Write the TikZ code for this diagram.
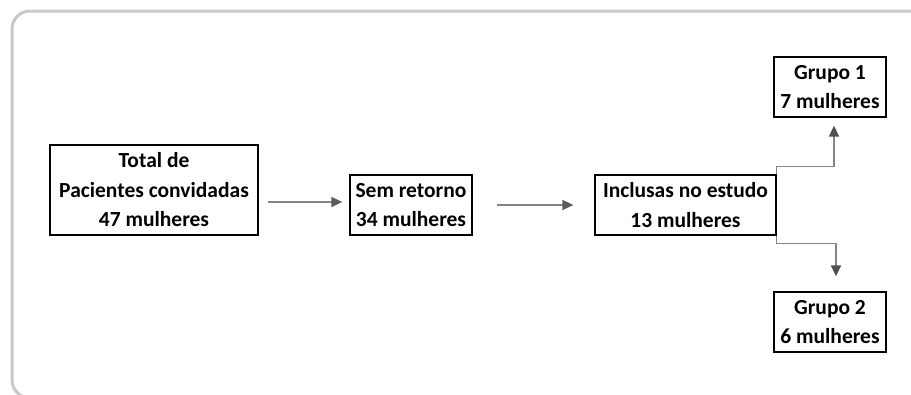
\documentclass[tikz,border=0pt]{standalone}
\usepackage{fontspec}
\setmainfont{Carlito}
\usetikzlibrary{arrows.meta,positioning,calc}
\definecolor{moldcinza}{HTML}{C8C8C8}
\definecolor{setacinza}{HTML}{858585}
\definecolor{pontacinza}{HTML}{505050}
\tikzset{
  caixa/.style={draw,line width=1.3pt,inner sep=2pt,align=center,
                font=\bfseries\fontsize{21.5}{29.5}\selectfont},
  linha/.style={draw=setacinza,line width=1.6pt},
  seta/.style={linha,-{Triangle[length=11pt,width=10pt,color=pontacinza!80!setacinza]}},
  ramo/.style={linha,-{Triangle[length=11pt,width=10pt,color=pontacinza]}},
  moldura/.style={draw=moldcinza,line width=3pt,rounded corners=18pt},
}

\begin{document}
\begin{tikzpicture}[x=1pt,y=-1pt]
  \clip (0,0) rectangle (911,394);
  \fill[white] (0,0) rectangle (911,394);
  \draw[moldura] (12,11) rectangle (940,398);

  \node[caixa,minimum width=208pt,minimum height=90pt] (total) at (154,190)
    {Total de\\Pacientes convidadas\\47 mulheres};
  \node[caixa,minimum width=122pt,minimum height=60pt] (sem) at (411,205)
    {Sem retorno\\34 mulheres};
  \node[caixa,minimum width=181pt,minimum height=60pt] (incl) at (685.5,205)
    {Inclusas no estudo\\13 mulheres};
  \node[caixa,minimum width=112pt,minimum height=60pt] (g1) at (830,87)
    {Grupo 1\\7 mulheres};
  \node[caixa,minimum width=112pt,minimum height=60pt] (g2) at (830,322)
    {Grupo 2\\6 mulheres};

  \draw[seta] ([xshift=9pt,yshift=-12pt]total.east) -- ([xshift=-7pt,yshift=3pt]sem.west);
  \draw[seta] ([xshift=24pt]sem.east) -- ([xshift=-21pt]incl.west);
  \draw[ramo] (incl.north east) -- ++(0,-8) -| ([xshift=4pt,yshift=-8pt]g1.south);
  \draw[ramo] (incl.south east) -- ++(0,8) -| ([xshift=6pt,yshift=15pt]g2.north);
\end{tikzpicture}
\end{document}
